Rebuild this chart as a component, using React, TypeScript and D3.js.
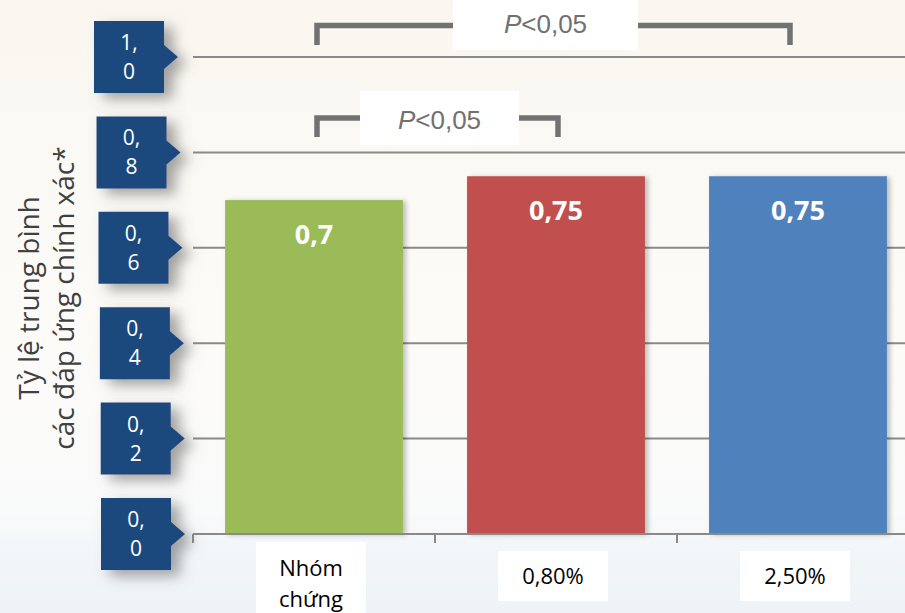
import React from "react";
import * as d3 from "d3";

// ---- data ----
const categories = ["Nhóm chứng", "0,80%", "2,50%"];
const categoryLines = [["Nhóm", "chứng"], ["0,80%"], ["2,50%"]];
const values = [0.7, 0.75, 0.75];
const valueLabels = ["0,7", "0,75", "0,75"];
const barColors = ["#9bbb59", "#c0504d", "#4f81bd"];
const yTicks = [0, 0.2, 0.4, 0.6, 0.8, 1.0];
const yTickLines = [
  ["0,", "0"],
  ["0,", "2"],
  ["0,", "4"],
  ["0,", "6"],
  ["0,", "8"],
  ["1,", "0"],
];
const yTitleLines = ["Tỷ lệ trung bình", "các đáp ứng chính xác*"];
const comparisons = [
  { from: 0, to: 2, pValue: "<0,05" },
  { from: 0, to: 1, pValue: "<0,05" },
];

const W = 905;
const H = 613;

export default function App() {
  const x = d3
    .scaleBand<string>()
    .domain(categories)
    .range([193, 919])
    .paddingInner(0.265)
    .paddingOuter(0.1325);
  const y = d3.scaleLinear().domain([0, 1]).range([534, 57]);
  const bw = x.bandwidth();
  const cx = (i: number) => (x(categories[i]) as number) + bw / 2;
  const step = x.step();
  const tickBoundaries = d3.range(categories.length + 1).map((i) => 193 + i * step);

  // bracket geometry (top row for the widest comparison)
  const bracketRows = [
    { yLine: 25.5, yLeg: 45, boxTop: -5, boxBottom: 50, boxW: 185, baseline: 33 },
    { yLine: 118, yLeg: 137, boxTop: 91, boxBottom: 145, boxW: 159, baseline: 129 },
  ];

  return (
    <svg
      width={W}
      height={H}
      viewBox={`0 0 ${W} ${H}`}
      style={{ position: "absolute", left: 0, top: 0, display: "block" }}
      fontFamily="'Open Sans', sans-serif"
    >
      <defs>
        <linearGradient id="bg" x1="0" y1="0" x2="0" y2="1">
          <stop offset="0" stopColor="#faf7f0" />
          <stop offset="0.55" stopColor="#fcfbf8" />
          <stop offset="0.84" stopColor="#f9fafa" />
          <stop offset="0.9" stopColor="#f2f6f9" />
          <stop offset="1" stopColor="#eef3f7" />
        </linearGradient>
        <filter id="boxShadow" x="-40%" y="-40%" width="190%" height="190%">
          <feGaussianBlur in="SourceAlpha" stdDeviation="7" />
          <feOffset dx="9" dy="6" result="blur" />
          <feFlood floodColor="#666666" floodOpacity="0.6" />
          <feComposite in2="blur" operator="in" />
          <feMerge>
            <feMergeNode />
            <feMergeNode in="SourceGraphic" />
          </feMerge>
        </filter>
        <filter id="barShadow" x="-10%" y="-10%" width="125%" height="125%">
          <feGaussianBlur in="SourceAlpha" stdDeviation="2.5" />
          <feOffset dx="3" dy="1" result="blur" />
          <feFlood floodColor="#000" floodOpacity="0.25" />
          <feComposite in2="blur" operator="in" />
          <feMerge>
            <feMergeNode />
            <feMergeNode in="SourceGraphic" />
          </feMerge>
        </filter>
      </defs>

      <rect x={0} y={0} width={W} height={H} fill="url(#bg)" />

      {/* horizontal gridlines */}
      {yTicks.map((t) => (
        <line
          key={`g${t}`}
          x1={193}
          x2={W}
          y1={y(t)}
          y2={y(t)}
          stroke="#8a8a8a"
          strokeWidth={2}
        />
      ))}

      {/* category tick marks */}
      {tickBoundaries.map((tx, i) => (
        <line
          key={`t${i}`}
          x1={tx}
          x2={tx}
          y1={y(0)}
          y2={y(0) + 9}
          stroke="#8a8a8a"
          strokeWidth={2}
        />
      ))}

      {/* bars */}
      {values.map((v, i) => (
        <g key={`b${i}`}>
          <rect
            x={x(categories[i])}
            y={y(v)}
            width={bw}
            height={y(0) - y(v)}
            fill={barColors[i]}
            filter="url(#barShadow)"
          />
          <text
            x={cx(i)}
            y={y(v) + 44}
            textAnchor="middle"
            fill="#ffffff"
            fontWeight="bold"
            fontSize={27}
          >
            {valueLabels[i]}
          </text>
        </g>
      ))}

      {/* axis baseline above bars */}
      <line x1={193} x2={W} y1={y(0)} y2={y(0)} stroke="#8a8a8a" strokeWidth={2} />

      {/* y tick callout boxes */}
      {yTicks.map((t, i) => {
        const ty = y(t);
        const left = 101 - 7 * t * t;
        const right = left + 70;
        const d = `M${left},${ty - 36}H${right}V${ty - 12}L${right + 14},${ty}L${right},${ty + 12}V${ty + 36}H${left}Z`;
        return (
          <g key={`yt${t}`}>
            <path d={d} fill="#1f497d" filter="url(#boxShadow)" />
            <text
              x={left + 35}
              y={ty - 7}
              textAnchor="middle"
              fill="#ffffff"
              fontSize={21}
            >
              {yTickLines[i][0]}
            </text>
            <text
              x={left + 35}
              y={ty + 22}
              textAnchor="middle"
              fill="#ffffff"
              fontSize={21}
            >
              {yTickLines[i][1]}
            </text>
          </g>
        );
      })}

      {/* y axis title */}
      {yTitleLines.map((line, i) => (
        <text
          key={`yl${i}`}
          transform={`translate(${39 + i * 35},298) rotate(-90)`}
          textAnchor="middle"
          fill="#404040"
          fontSize={28}
        >
          {line}
        </text>
      ))}

      {/* category labels */}
      {categoryLines.map((lines, i) => {
        const c = cx(i) - 3;
        const twoLine = lines.length > 1;
        const top = twoLine ? 542 : 551;
        const bottom = twoLine ? 620 : 601;
        return (
          <g key={`c${i}`}>
            <rect x={c - 55} y={top} width={110} height={bottom - top} fill="#ffffff" />
            {lines.map((l, j) => (
              <text
                key={j}
                x={c}
                y={(twoLine ? 576 : 584) + j * 31}
                textAnchor="middle"
                fill="#000000"
                fontSize={22}
              >
                {l}
              </text>
            ))}
          </g>
        );
      })}

      {/* significance brackets */}
      {comparisons.map((cmp, i) => {
        const r = bracketRows[i];
        const x1 = cx(cmp.from) + 3;
        const x2 = cx(cmp.to) + (cmp.to === 2 ? -8 : 2);
        const mid = (x1 + x2) / 2 - (i === 0 ? 8 : -2);
        return (
          <g key={`s${i}`}>
            <path
              d={`M${x1},${r.yLeg}V${r.yLine}H${x2}V${r.yLeg}`}
              fill="none"
              stroke="#727272"
              strokeWidth={5.5}
              strokeLinejoin="miter"
            />
            <rect
              x={mid - r.boxW / 2}
              y={r.boxTop}
              width={r.boxW}
              height={r.boxBottom - r.boxTop}
              fill="#ffffff"
            />
            <text
              x={mid}
              y={r.baseline}
              textAnchor="middle"
              fill="#707070"
              fontSize={26}
              fontFamily="'Liberation Sans', Arial, sans-serif"
            >
              <tspan fontStyle="italic">P</tspan>
              <tspan>{cmp.pValue}</tspan>
            </text>
          </g>
        );
      })}
    </svg>
  );
}
